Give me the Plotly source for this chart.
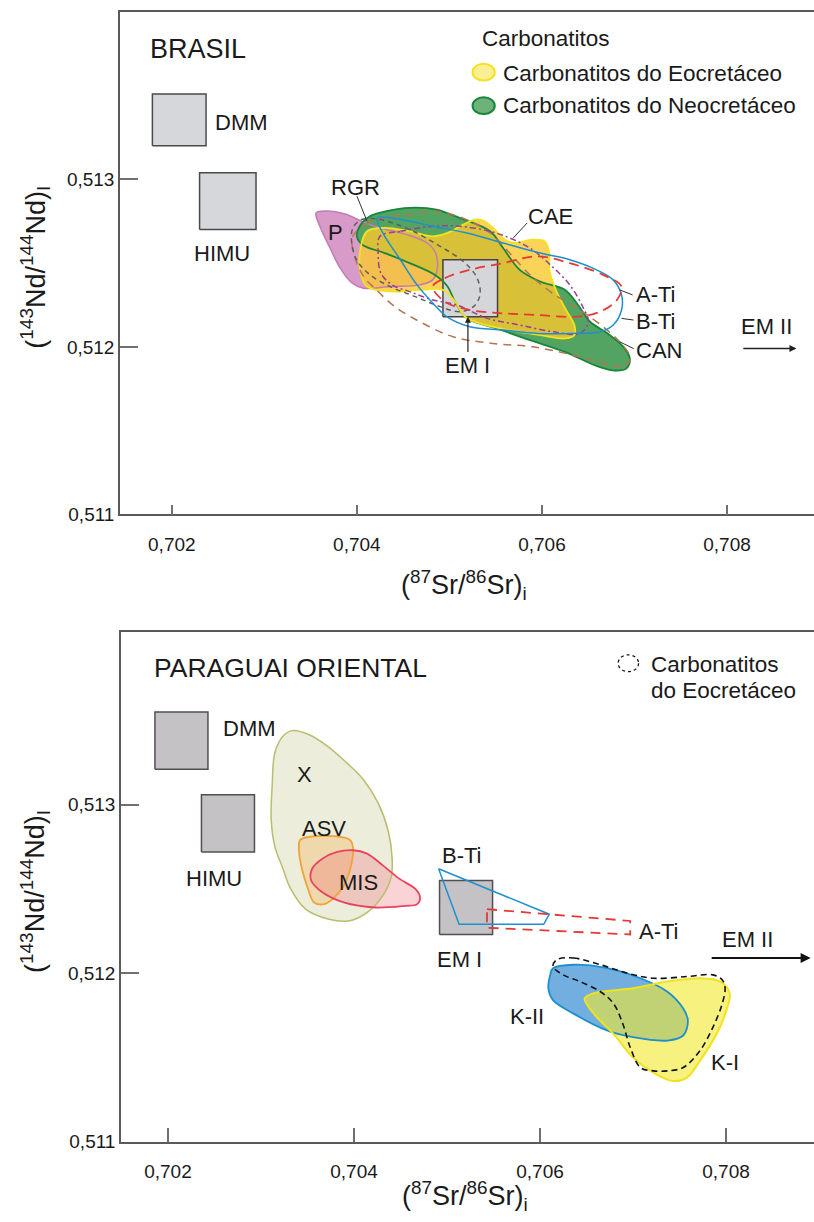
import plotly.graph_objects as go

# ---------------- DATA: upper panel (BRASIL) ----------------
TICK_SR = [0.702, 0.704, 0.706, 0.708]
TICK_SR_TXT = ["0,702", "0,704", "0,706", "0,708"]
TICK_ND = [0.511, 0.512, 0.513]
TICK_ND_TXT = ["0,511", "0,512", "0,513"]

DMM1_SR = [0.70179, 0.70237]; DMM1_ND = [0.51320, 0.51351]
HIMU1_SR = [0.70230, 0.70291]; HIMU1_ND = [0.51270, 0.51304]
EMI1_SR = [0.70493, 0.70552]; EMI1_ND = [0.51218, 0.51252]

P_SR = [0.70356, 0.70371, 0.70389, 0.70405, 0.70425, 0.70454, 0.70476, 0.70485, 0.70487,
        0.70482, 0.70468, 0.70436, 0.70407, 0.70395, 0.70382, 0.70371, 0.70360]
P_ND = [0.51280, 0.51281, 0.51279, 0.51275, 0.51271, 0.51267, 0.51262, 0.51256, 0.51247,
        0.51240, 0.51237, 0.51236, 0.51235, 0.51238, 0.51247, 0.51259, 0.51272]

NEO_SR = [0.70400, 0.70403, 0.70414, 0.70432, 0.70457, 0.70486, 0.70511, 0.70544, 0.70558, 0.70576,
          0.70598, 0.70625, 0.70639, 0.70652, 0.70671, 0.70688, 0.70695, 0.70691, 0.70676, 0.70657,
          0.70625, 0.70587, 0.70551, 0.70519, 0.70506, 0.70498, 0.70484, 0.70457, 0.70430, 0.70406]
NEO_ND = [0.51266, 0.51272, 0.51278, 0.51281, 0.51283, 0.51282, 0.51277, 0.51269, 0.51259, 0.51246,
          0.51239, 0.51234, 0.51225, 0.51215, 0.51208, 0.51200, 0.51193, 0.51187, 0.51186, 0.51189,
          0.51197, 0.51204, 0.51211, 0.51217, 0.51227, 0.51236, 0.51243, 0.51250, 0.51256, 0.51261]

EO_SR = [0.70411, 0.70430, 0.70457, 0.70482, 0.70498, 0.70515, 0.70528, 0.70538, 0.70549, 0.70560,
         0.70571, 0.70589, 0.70603, 0.70608, 0.70608, 0.70615, 0.70626, 0.70635, 0.70635, 0.70625,
         0.70598, 0.70565, 0.70533, 0.70517, 0.70506, 0.70493, 0.70468, 0.70436, 0.70411, 0.70404, 0.70404]
EO_ND = [0.51269, 0.51271, 0.51269, 0.51266, 0.51268, 0.51273, 0.51276, 0.51275, 0.51270, 0.51264,
         0.51262, 0.51264, 0.51263, 0.51256, 0.51246, 0.51234, 0.51222, 0.51213, 0.51207, 0.51205,
         0.51207, 0.51210, 0.51214, 0.51218, 0.51227, 0.51234, 0.51234, 0.51233, 0.51236, 0.51244, 0.51259]

BTI1_SR = [0.70422, 0.70447, 0.70482, 0.70519, 0.70558, 0.70598, 0.70630, 0.70659, 0.70677, 0.70686, 0.70686,
           0.70677, 0.70663, 0.70630, 0.70595, 0.70558, 0.70522, 0.70497, 0.70484, 0.70465, 0.70447, 0.70428]
BTI1_ND = [0.51277, 0.51276, 0.51272, 0.51268, 0.51262, 0.51256, 0.51252, 0.51246, 0.51240, 0.51231, 0.51222,
           0.51213, 0.51209, 0.51208, 0.51208, 0.51210, 0.51212, 0.51218, 0.51225, 0.51237, 0.51252, 0.51268]

CAE_SR = [0.70425, 0.70447, 0.70482, 0.70511, 0.70544, 0.70565, 0.70587, 0.70609, 0.70630, 0.70644, 0.70650,
          0.70641, 0.70612, 0.70576, 0.70541, 0.70508, 0.70482, 0.70457, 0.70438, 0.70426, 0.70423]
CAE_ND = [0.51266, 0.51269, 0.51272, 0.51272, 0.51269, 0.51265, 0.51259, 0.51249, 0.51237, 0.51224, 0.51215,
          0.51208, 0.51209, 0.51213, 0.51217, 0.51225, 0.51228, 0.51233, 0.51237, 0.51244, 0.51256]

RGR_SR = [0.70395, 0.70405, 0.70425, 0.70457, 0.70490, 0.70515, 0.70530, 0.70533, 0.70526, 0.70511,
          0.70490, 0.70463, 0.70436, 0.70412, 0.70398]
RGR_ND = [0.51270, 0.51276, 0.51276, 0.51270, 0.51260, 0.51251, 0.51241, 0.51231, 0.51224, 0.51221,
          0.51224, 0.51230, 0.51236, 0.51244, 0.51254]

ATI1_SR = [0.70482, 0.70495, 0.70522, 0.70558, 0.70595, 0.70630, 0.70666, 0.70686, 0.70681, 0.70663,
           0.70638, 0.70595, 0.70558, 0.70522, 0.70495]
ATI1_ND = [0.51236, 0.51241, 0.51246, 0.51250, 0.51254, 0.51250, 0.51243, 0.51236, 0.51228, 0.51221,
           0.51218, 0.51219, 0.51220, 0.51222, 0.51227]

CAN_SR = [0.70395, 0.70409, 0.70428, 0.70457, 0.70481, 0.70503, 0.70522, 0.70544, 0.70565, 0.70587,
          0.70614, 0.70641, 0.70666, 0.70684, 0.70695, 0.70690, 0.70674, 0.70634, 0.70590, 0.70547,
          0.70504, 0.70468, 0.70441, 0.70423, 0.70405]
CAN_ND = [0.51265, 0.51273, 0.51277, 0.51279, 0.51281, 0.51279, 0.51275, 0.51268, 0.51256, 0.51243,
          0.51231, 0.51222, 0.51212, 0.51203, 0.51194, 0.51188, 0.51189, 0.51195, 0.51200, 0.51202,
          0.51206, 0.51215, 0.51224, 0.51233, 0.51244]

# ---------------- DATA: lower panel (PARAGUAI ORIENTAL) ----------------
DMM2_SR = [0.70186, 0.70243]; DMM2_ND = [0.51321, 0.51355]
HIMU2_SR = [0.70236, 0.70293]; HIMU2_ND = [0.51272, 0.51306]
EMI2_SR = [0.70492, 0.70549]; EMI2_ND = [0.51223, 0.51255]

X_SR = [0.70334, 0.70350, 0.70371, 0.70392, 0.70410, 0.70426, 0.70437, 0.70441, 0.70440, 0.70431, 0.70414,
        0.70394, 0.70373, 0.70348, 0.70332, 0.70323, 0.70315, 0.70311, 0.70312, 0.70315, 0.70324]
X_ND = [0.51344, 0.51342, 0.51335, 0.51325, 0.51315, 0.51301, 0.51284, 0.51268, 0.51257, 0.51246, 0.51236,
        0.51231, 0.51232, 0.51238, 0.51250, 0.51263, 0.51275, 0.51291, 0.51311, 0.51331, 0.51341]

ASV_SR = [0.70342, 0.70353, 0.70385, 0.70396, 0.70399, 0.70396, 0.70388, 0.70377, 0.70368, 0.70357, 0.70350, 0.70344, 0.70341]
ASV_ND = [0.51279, 0.51281, 0.51281, 0.51279, 0.51274, 0.51262, 0.51251, 0.51244, 0.51241, 0.51242, 0.51251, 0.51262, 0.51272]

MIS_SR = [0.70399, 0.70414, 0.70431, 0.70449, 0.70466, 0.70471, 0.70468, 0.70455, 0.70423, 0.70389,
          0.70366, 0.70354, 0.70355, 0.70366, 0.70382]
MIS_ND = [0.51273, 0.51271, 0.51264, 0.51256, 0.51250, 0.51245, 0.51241, 0.51240, 0.51239, 0.51242,
          0.51248, 0.51255, 0.51262, 0.51268, 0.51272]

BTI2_SR = [0.70491, 0.70610, 0.70604, 0.70513]
BTI2_ND = [0.51262, 0.51235, 0.51229, 0.51229]

ATI2_SR = [0.70543, 0.70697, 0.70697, 0.70543]
ATI2_ND = [0.51238, 0.51231, 0.51223, 0.51227]

KII_SR = [0.70614, 0.70636, 0.70672, 0.70708, 0.70737, 0.70754, 0.70759, 0.70754, 0.70737, 0.70700,
          0.70672, 0.70636, 0.70614, 0.70609, 0.70611]
KII_ND = [0.51203, 0.51205, 0.51203, 0.51197, 0.51189, 0.51179, 0.51172, 0.51163, 0.51160, 0.51162,
          0.51166, 0.51176, 0.51184, 0.51191, 0.51199]

KI_SR = [0.70648, 0.70657, 0.70700, 0.70737, 0.70772, 0.70794, 0.70804, 0.70801, 0.70790, 0.70772,
         0.70758, 0.70743, 0.70722, 0.70700, 0.70679, 0.70661, 0.70651]
KI_ND = [0.51185, 0.51188, 0.51191, 0.51195, 0.51197, 0.51195, 0.51188, 0.51179, 0.51164, 0.51148,
         0.51138, 0.51136, 0.51141, 0.51150, 0.51164, 0.51174, 0.51181]

CE_SR = [0.70618, 0.70636, 0.70665, 0.70694, 0.70722, 0.70758, 0.70786, 0.70796, 0.70799, 0.70796, 0.70786,
         0.70772, 0.70754, 0.70737, 0.70722, 0.70708, 0.70697, 0.70689, 0.70679, 0.70665, 0.70643, 0.70625, 0.70614]
CE_ND = [0.51208, 0.51209, 0.51205, 0.51200, 0.51197, 0.51198, 0.51199, 0.51196, 0.51191, 0.51182, 0.51168,
         0.51154, 0.51144, 0.51142, 0.51142, 0.51144, 0.51156, 0.51170, 0.51182, 0.51189, 0.51195, 0.51199, 0.51204]

# ---------------- figure ----------------
FONT = "Liberation Sans, Arial, sans-serif"
TXT = "#1a1a1a"
fig = go.Figure()


def poly(xs, ys, xa, ya, fill=None, line=None, width=1.5, dash=None, spline=True):
    x = list(xs) + [xs[0]]
    y = list(ys) + [ys[0]]
    fig.add_trace(go.Scatter(
        x=x, y=y, xaxis=xa, yaxis=ya, mode="lines",
        fill="toself" if fill else "none", fillcolor=fill,
        line=dict(color=line if line else "rgba(0,0,0,0)", width=width if line else 0,
                  dash=dash, shape="spline" if spline else "linear", smoothing=1.0),
        hoverinfo="skip", showlegend=False))


def box(sr, nd, xa, ya, fill, line):
    fig.add_trace(go.Scatter(
        x=[sr[0], sr[1], sr[1], sr[0], sr[0]], y=[nd[0], nd[0], nd[1], nd[1], nd[0]],
        xaxis=xa, yaxis=ya, mode="lines", fill="toself", fillcolor=fill,
        line=dict(color=line, width=1.5), hoverinfo="skip", showlegend=False))


# --- upper panel ---
PINK_F, PINK_L = "#d89bc9", "#c47ab2"
GREEN_F, GREEN_L = "#53a462", "#17863a"
YEL_F, YEL_L = "rgba(250,200,48,0.80)", "#f2e31e"
BLUE = "#1e8fd0"
RED = "#e53935"
BROWN = "#b5744f"
PURPLE = "#9c3d98"
GRAYD = "#5f5f5f"

box(DMM1_SR, DMM1_ND, "x", "y", "#d5d7da", "#4a4a4a")
box(HIMU1_SR, HIMU1_ND, "x", "y", "#d5d7da", "#4a4a4a")

poly(P_SR, P_ND, "x", "y", fill=PINK_F)
poly(NEO_SR, NEO_ND, "x", "y", fill=GREEN_F)
poly(EO_SR, EO_ND, "x", "y", fill=YEL_F)
box(EMI1_SR, EMI1_ND, "x", "y", "#d4d6d9", "#444444")
poly(P_SR, P_ND, "x", "y", line=PINK_L, width=1.5)
poly(NEO_SR, NEO_ND, "x", "y", line=GREEN_L, width=1.8)
poly(EO_SR, EO_ND, "x", "y", line=YEL_L, width=1.8)
poly(CAN_SR, CAN_ND, "x", "y", line=BROWN, width=1.5, dash="8px,6px")
poly(RGR_SR, RGR_ND, "x", "y", line=GRAYD, width=1.5, dash="5px,4px")
poly(CAE_SR, CAE_ND, "x", "y", line=PURPLE, width=1.5, dash="6px,3px,2px,3px")
poly(BTI1_SR, BTI1_ND, "x", "y", line=BLUE, width=1.5)
poly(ATI1_SR, ATI1_ND, "x", "y", line=RED, width=1.8, dash="10px,6px")

# --- lower panel ---
box(DMM2_SR, DMM2_ND, "x2", "y2", "#c4c2c4", "#505050")
box(HIMU2_SR, HIMU2_ND, "x2", "y2", "#c4c2c4", "#505050")

poly(X_SR, X_ND, "x2", "y2", fill="#eceedb")
poly(ASV_SR, ASV_ND, "x2", "y2", fill="rgba(245,165,60,0.30)")
poly(MIS_SR, MIS_ND, "x2", "y2", fill="rgba(240,110,120,0.30)")
poly(X_SR, X_ND, "x2", "y2", line="#b9bd6e", width=1.5)
poly(ASV_SR, ASV_ND, "x2", "y2", line="#f0a33a", width=1.8)
poly(MIS_SR, MIS_ND, "x2", "y2", line="#e8435f", width=1.8)

box(EMI2_SR, EMI2_ND, "x2", "y2", "#c4c2c4", "#505050")
poly(BTI2_SR, BTI2_ND, "x2", "y2", line=BLUE, width=1.5, spline=False)
poly(ATI2_SR, ATI2_ND, "x2", "y2", line=RED, width=1.8, dash="10px,7px", spline=False)

poly(KII_SR, KII_ND, "x2", "y2", fill="#72aee0")
poly(KI_SR, KI_ND, "x2", "y2", fill="rgba(242,232,50,0.62)")
poly(KII_SR, KII_ND, "x2", "y2", line="#1b8fcf", width=1.8)
poly(KI_SR, KI_ND, "x2", "y2", line="#f2e21c", width=2)
poly(CE_SR, CE_ND, "x2", "y2", line="#111111", width=1.6, dash="6px,4px")

# ---------------- annotations ----------------
ann = []


def label(x, y, text, xr="x", yr="y", size=22, xanchor="center"):
    ann.append(dict(x=x, y=y, xref=xr, yref=yr, text=text, showarrow=False,
                    xanchor=xanchor, yanchor="middle", font=dict(family=FONT, size=size, color=TXT)))


# upper
label(0.70174, 0.51378, "BRASIL", size=27, xanchor="left")
label(0.70533, 0.51384, "Carbonatitos", size=22.5, xanchor="left")
label(0.70556, 0.51363, "Carbonatitos do Eocretáceo", size=22.5, xanchor="left")
label(0.70556, 0.51344, "Carbonatitos do Neocretáceo", size=22.5, xanchor="left")
label(0.70244, 0.51334, "DMM", xanchor="left")
label(0.70254, 0.51256, "HIMU")
label(0.70398, 0.51295, "RGR")
label(0.70377, 0.51268, "P")
label(0.70609, 0.51278, "CAE")
label(0.70700, 0.51231, "A-Ti", xanchor="left")
label(0.70700, 0.51215, "B-Ti", xanchor="left")
label(0.70700, 0.51198, "CAN", xanchor="left")
label(0.70520, 0.51189, "EM I")
label(0.70843, 0.51212, "EM II")
ann.append(dict(x=0.70520, y=0.51218, ax=0.70520, ay=0.51196, xref="x", yref="y", axref="x", ayref="y",
                text="", showarrow=True, arrowhead=2, arrowsize=1, arrowwidth=1.2, arrowcolor="#222"))
ann.append(dict(x=0.70875, y=0.51199, ax=0.70816, ay=0.51199, xref="x", yref="y", axref="x", ayref="y",
                text="", showarrow=True, arrowhead=2, arrowsize=1, arrowwidth=1.4, arrowcolor="#222"))

# lower
label(0.70183, 0.51381, "PARAGUAI ORIENTAL", xr="x2", yr="y2", size=26.5, xanchor="left")
label(0.70717, 0.51383, "Carbonatitos", xr="x2", yr="y2", size=22.5, xanchor="left")
label(0.70717, 0.51368, "do Eocretáceo", xr="x2", yr="y2", size=22.5, xanchor="left")
label(0.70257, 0.51345, "DMM", xr="x2", yr="y2", xanchor="left")
label(0.70249, 0.51256, "HIMU", xr="x2", yr="y2")
label(0.70347, 0.51318, "X", xr="x2", yr="y2")
label(0.70368, 0.51286, "ASV", xr="x2", yr="y2")
label(0.70405, 0.51254, "MIS", xr="x2", yr="y2")
label(0.70516, 0.51270, "B-Ti", xr="x2", yr="y2")
label(0.70704, 0.51225, "A-Ti", xr="x2", yr="y2", xanchor="left")
label(0.70513, 0.51208, "EM I", xr="x2", yr="y2")
label(0.70823, 0.51220, "EM II", xr="x2", yr="y2")
label(0.70586, 0.51174, "K-II", xr="x2", yr="y2")
label(0.70799, 0.51147, "K-I", xr="x2", yr="y2")
ann.append(dict(x=0.70891, y=0.51209, ax=0.70783, ay=0.51209, xref="x2", yref="y2", axref="x2", ayref="y2",
                text="", showarrow=True, arrowhead=2, arrowsize=1, arrowwidth=2, arrowcolor="#111"))

# axis titles
XT = "(<sup>87</sup>Sr/<sup>86</sup>Sr)<sub>i</sub>"
YT = "(<sup>143</sup>Nd/<sup>144</sup>Nd)<sub>I</sub>"
for (x, y, t, ang) in [(0.570, 0.5172, XT, 0), (0.043, 0.779, YT, -90),
                       (0.571, 0.0123, XT, 0), (0.043, 0.2635, YT, -90)]:
    ann.append(dict(x=x, y=y, xref="paper", yref="paper", text=t, showarrow=False, textangle=ang,
                    xanchor="center", yanchor="middle", font=dict(family=FONT, size=27, color=TXT)))

# ---------------- shapes: pointers & legend icons ----------------
shapes = []
for (x0, y0, x1, y1) in [(0.70400, 0.51290, 0.70411, 0.51275),
                         (0.70584, 0.51274, 0.70569, 0.51265),
                         (0.70684, 0.51234, 0.70698, 0.51231),
                         (0.70686, 0.51217, 0.70699, 0.51216),
                         (0.70684, 0.51203, 0.70699, 0.51199)]:
    shapes.append(dict(type="line", xref="x", yref="y", x0=x0, y0=y0, x1=x1, y1=y1,
                       line=dict(color="#333", width=1)))
shapes.append(dict(type="circle", xref="x", yref="y", x0=0.70525, x1=0.70549, y0=0.51359, y1=0.51369,
                   fillcolor="#fbef93", line=dict(color="#f2e31e", width=2)))
shapes.append(dict(type="circle", xref="x", yref="y", x0=0.70525, x1=0.70549, y0=0.51339, y1=0.51349,
                   fillcolor="#6cb27a", line=dict(color="#17863a", width=2)))
shapes.append(dict(type="circle", xref="x2", yref="y2", x0=0.70684, x1=0.70706, y0=0.51379, y1=0.51389,
                   fillcolor="rgba(0,0,0,0)", line=dict(color="#111", width=1.3, dash="3px,3px")))

AX = dict(showgrid=False, zeroline=False, showline=True, linecolor="#5a5a5a", linewidth=1.5,
          ticks="inside", tickcolor="#707070", tickwidth=1.5,
          tickfont=dict(family=FONT, size=19, color=TXT))

fig.update_layout(
    width=814, height=1222, margin=dict(l=0, r=0, t=0, b=0),
    paper_bgcolor="white", plot_bgcolor="white", showlegend=False,
    xaxis=dict(domain=[120 / 814, 1], anchor="y", range=[0.70144, 0.70894], tickvals=TICK_SR,
               ticktext=TICK_SR_TXT, ticklen=10, mirror=True, ticklabelstandoff=12, **AX),
    yaxis=dict(domain=[(1222 - 519) / 1222, (1222 - 12) / 1222], anchor="x", range=[0.511, 0.514],
               tickvals=TICK_ND, ticktext=TICK_ND_TXT, ticklen=18, **AX),
    xaxis2=dict(domain=[121 / 814, 1], anchor="y2", range=[0.701495, 0.708946], tickvals=TICK_SR,
                ticktext=TICK_SR_TXT, ticklen=14, mirror=True, ticklabelstandoff=12, **AX),
    yaxis2=dict(domain=[70 / 1222, 584 / 1222], anchor="x2", range=[0.511, 0.514024],
                tickvals=TICK_ND, ticktext=TICK_ND_TXT, ticklen=18, **AX),
    annotations=ann, shapes=shapes,
)

fig.write_html("out.html")
